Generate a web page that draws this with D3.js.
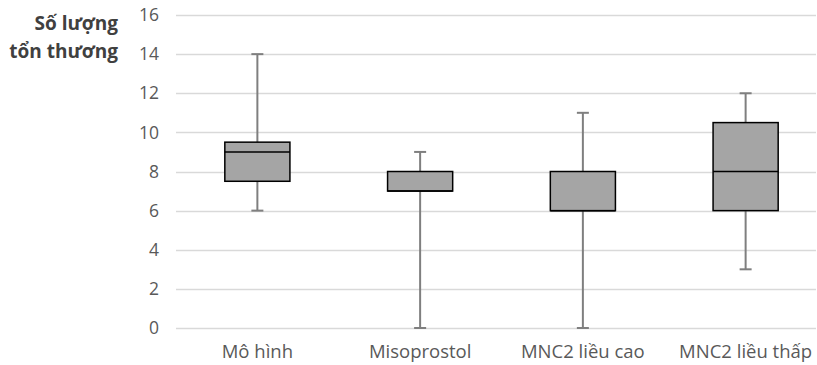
<!DOCTYPE html>
<html>
<head>
<meta charset="utf-8">
<script src="https://cdn.jsdelivr.net/npm/d3@7"></script>
<style>
  body { margin: 0; background: #fff; }
  svg { display: block; font-family: "Open Sans", sans-serif; }
</style>
</head>
<body>
<div id="chart"></div>
<script>
// box plot stats
const categories = ['Mô hình', 'Misoprostol', 'MNC2 liều cao', 'MNC2 liều thấp'];
const minValues = [6, 0, 0, 3];
const q1Values = [7.5, 7, 6, 6];
const medianValues = [9, 7, 6, 8];
const q3Values = [9.5, 8, 8, 10.5];
const maxValues = [14, 9, 11, 12];
const yTicks = [0, 2, 4, 6, 8, 10, 12, 14, 16];

const W = 817, H = 365;
const margin = { top: 15, right: -10, bottom: 37, left: 176 };

const boxes = categories.map((c, i) => ({
  cat: c, min: minValues[i], q1: q1Values[i], med: medianValues[i], q3: q3Values[i], max: maxValues[i]
}));

const svg = d3.select('#chart').append('svg')
  .attr('width', W)
  .attr('height', H);

const x = d3.scaleBand()
  .domain(categories)
  .range([margin.left, W - margin.right])
  .paddingInner(0.6)
  .paddingOuter(0.3);

const y = d3.scaleLinear()
  .domain([0, 16])
  .range([H - margin.bottom, margin.top]);

// gridlines
svg.append('g')
  .selectAll('line')
  .data(yTicks)
  .enter().append('line')
  .attr('x1', margin.left)
  .attr('x2', 816)
  .attr('y1', d => Math.round(y(d)) + 0.5)
  .attr('y2', d => Math.round(y(d)) + 0.5)
  .attr('stroke', '#d9d9d9')
  .attr('stroke-width', 1.5);

// y tick labels
svg.append('g')
  .selectAll('text')
  .data(yTicks)
  .enter().append('text')
  .attr('x', 159)
  .attr('y', d => y(d))
  .attr('dy', '0.35em')
  .attr('text-anchor', 'end')
  .attr('fill', '#595959')
  .style('font-size', '17.5px')
  .text(d => d);

// x labels
svg.append('g')
  .selectAll('text')
  .data(categories)
  .enter().append('text')
  .attr('x', d => x(d) + x.bandwidth() / 2)
  .attr('y', 358)
  .attr('text-anchor', 'middle')
  .attr('fill', '#595959')
  .style('font-size', '18.5px')
  .text(d => d);

// y axis title
const title = svg.append('text')
  .attr('text-anchor', 'end')
  .attr('fill', '#404040')
  .style('font-size', '19px')
  .style('font-weight', 'bold');
title.append('tspan').attr('x', 118).attr('y', 30).text('Số lượng');
title.append('tspan').attr('x', 118).attr('y', 58).text('tổn thương');

const g = svg.append('g')
  .selectAll('g')
  .data(boxes)
  .enter().append('g');

const cx = d => x(d.cat) + x.bandwidth() / 2;
const capW = 12;

// whiskers
g.append('line')
  .attr('x1', cx).attr('x2', cx)
  .attr('y1', d => y(d.max)).attr('y2', d => y(d.q3))
  .attr('stroke', '#7f7f7f').attr('stroke-width', 2);
g.append('line')
  .attr('x1', cx).attr('x2', cx)
  .attr('y1', d => y(d.q1)).attr('y2', d => y(d.min))
  .attr('stroke', '#7f7f7f').attr('stroke-width', 2);
g.append('line')
  .attr('x1', d => cx(d) - capW / 2).attr('x2', d => cx(d) + capW / 2)
  .attr('y1', d => y(d.max)).attr('y2', d => y(d.max))
  .attr('stroke', '#7f7f7f').attr('stroke-width', 2);
g.append('line')
  .attr('x1', d => cx(d) - capW / 2).attr('x2', d => cx(d) + capW / 2)
  .attr('y1', d => y(d.min)).attr('y2', d => y(d.min))
  .attr('stroke', '#7f7f7f').attr('stroke-width', 2);

// boxes
g.append('rect')
  .attr('x', d => x(d.cat))
  .attr('width', x.bandwidth())
  .attr('y', d => y(d.q3))
  .attr('height', d => y(d.q1) - y(d.q3))
  .attr('fill', '#a5a5a5')
  .attr('stroke', '#000')
  .attr('stroke-width', 1.5);

// medians
g.append('line')
  .attr('x1', d => x(d.cat)).attr('x2', d => x(d.cat) + x.bandwidth())
  .attr('y1', d => y(d.med)).attr('y2', d => y(d.med))
  .attr('stroke', '#000').attr('stroke-width', 1.5);
</script>
</body>
</html>
